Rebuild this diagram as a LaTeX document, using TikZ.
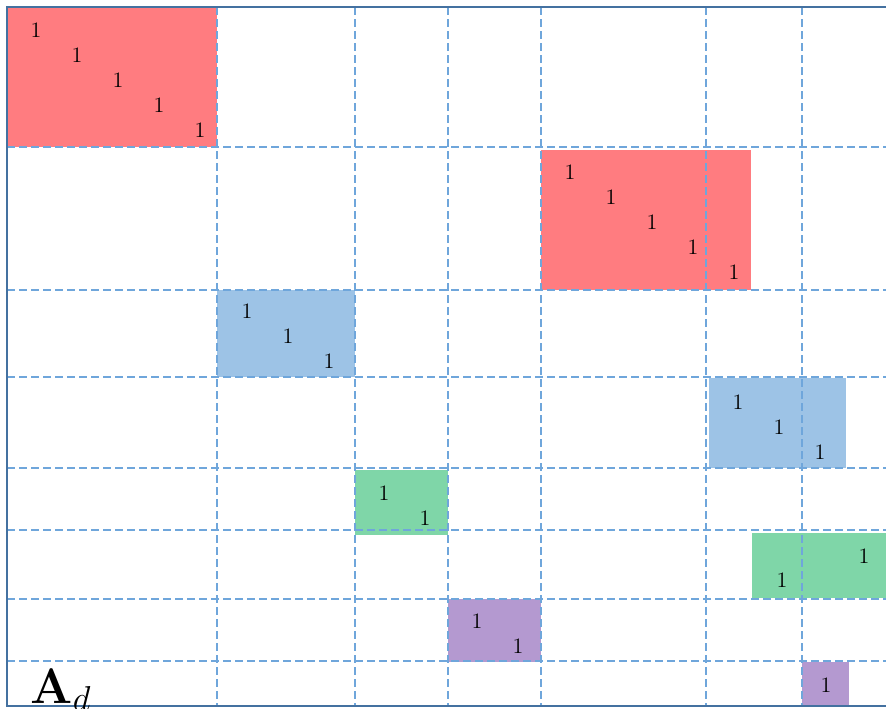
\documentclass[tikz,border=0pt]{standalone}
\usepackage{amsmath}
\usetikzlibrary{positioning}

\definecolor{gridblue}{HTML}{6FA6DB}
\definecolor{framecol}{HTML}{4471A0}
\definecolor{redfill}{HTML}{FF7C80}
\definecolor{bluefill}{HTML}{9DC3E6}
\definecolor{greenfill}{HTML}{7FD6A8}
\definecolor{purplefill}{HTML}{B499D0}

\begin{document}
\begin{tikzpicture}[
        x=0.5pt, y=-0.5pt,
        gridline/.style={gridblue, line width=0.7pt, dash pattern=on 4pt off 2pt},
        frameline/.style={framecol, line width=1.2pt},
        one/.style={inner sep=0pt, font=\fontsize{11}{13}\selectfont},
        redblk/.style={fill=redfill},
        blueblk/.style={fill=bluefill},
        greenblk/.style={fill=greenfill},
        purpleblk/.style={fill=purplefill}
    ]
        \useasboundingbox (0,0) rectangle (886,708);

        % Blocks
        \fill[redblk] (7,7) rectangle (217,147);
        \fill[redblk] (541,150) rectangle (751,290);
        \fill[blueblk] (217,290) rectangle (355,377);
        \fill[blueblk] (709,378) rectangle (846,468);
        \fill[greenblk] (355,470) rectangle (448,535);
        \fill[greenblk] (752,533) rectangle (886,598);
        \fill[purpleblk] (448,599) rectangle (541,662);
        \fill[purpleblk] (802,662) rectangle (849,706);

        % Grid
        \foreach \x in {217,355,448,541,706,802}
            \draw[gridline] (\x,7) -- (\x,706);
        \foreach \y in {147,290,377,468,530,599,661}
            \draw[gridline] (7,\y) -- (886,\y);

        % Frame
        \draw[frameline] (886,7) -- (7,7) -- (7,706) -- (886,706);

        % Ones
        \foreach \i in {0,...,4} {
            \node[one] (ra\i) at (36+41*\i, 30+25*\i) {1};
            \node[one] (rb\i) at (570+41*\i, 172+25*\i) {1};
        }
        \foreach \i in {0,1,2} {
            \node[one] (ba\i) at (247+41*\i, 311+25*\i) {1};
            \node[one] (bb\i) at (738+41*\i, 402+25*\i) {1};
        }
        \node[one] (ga0) at (384,493) {1};
        \node[one] (ga1) at (425,518) {1};
        \node[one] (gb0) at (782,580) {1};
        \node[one] (gb1) at (864,556) {1};
        \node[one] (pa0) at (477,621) {1};
        \node[one] (pa1) at (518,646) {1};
        \node[one] (pb0) at (826,685) {1};

        % Label
        \node[inner sep=0pt, font=\fontsize{25}{30}\selectfont] (lbl) at (61,690) {$\mathbf{A}_d$};
    \end{tikzpicture}
\end{document}
